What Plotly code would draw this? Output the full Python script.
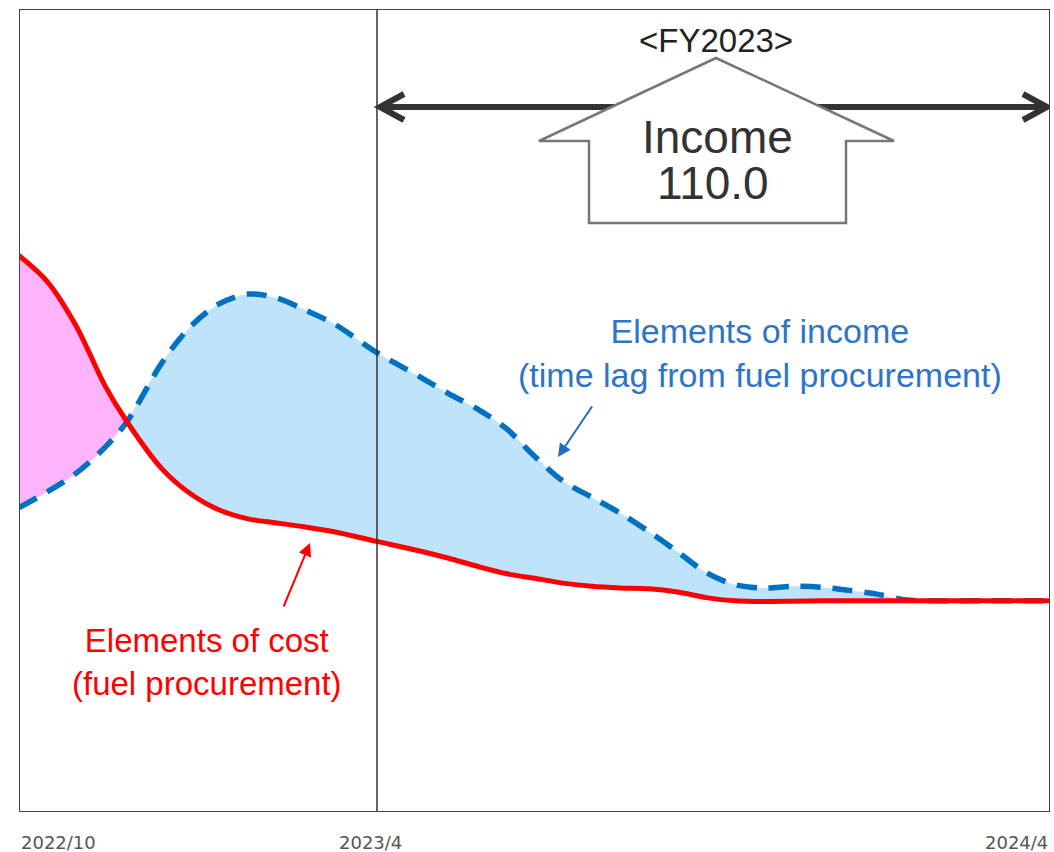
import plotly.graph_objects as go

# ---- data (months since 2022/10; values are a relative price level) ----
months = [0, 0.5, 1, 1.5, 1.885, 2.5, 3, 3.5, 4, 4.5, 5, 5.5, 6.25, 7, 7.5, 8,
          8.5, 9, 9.5, 10, 10.5, 11, 11.5, 12, 12.5, 13, 13.5, 14, 14.5, 15,
          15.5, 16, 17, 18]
cost = [69.3, 66.0, 60.5, 53.1, 48.6, 42.7, 39.6, 37.6, 36.5, 36.0, 35.5, 34.9,
        33.7, 32.5, 31.6, 30.6, 29.7, 29.1, 28.5, 28.1, 27.9, 27.8, 27.4, 26.7,
        26.3, 26.2, 26.25, 26.3, 26.3, 26.3, 26.3, 26.3, 26.3, 26.3]
income = [37.9, 39.9, 42.2, 45.4, 48.6, 56.0, 60.5, 63.3, 64.5, 64.0, 62.5, 60.8,
          57.2, 54.2, 52.1, 50.2, 47.8, 44.3, 41.2, 39.2, 37.2, 34.9, 32.4, 29.8,
          28.3, 27.9, 28.1, 28.0, 27.6, 27.1, 26.4, 26.3, 26.3, 26.3]
cross_index = 4            # where income overtakes cost
fy_start = 6.25            # 2023/4 boundary
tick_pos = [0, 6.25, 18]
tick_text = ["2022/10", "2023/4", "2024/4"]
fy_label = "<FY2023>"
income_value = "110.0"

RED = "#ff0000"
BLUE = "#0070c0"
FILL_BLUE = "#bfe3fb"
FILL_PINK = "#ffb3fb"

X0, X1 = 0, 18
Y0, Y1 = 0, 100


def px2x(px):
    return X0 + (px - 19) / (1050 - 19) * (X1 - X0)


def py2y(py):
    return Y0 + (812 - py) / (812 - 9) * (Y1 - Y0)


fig = go.Figure()
SM = 0.9

# pink area (cost above income)
seg = slice(0, cross_index + 1)
fig.add_trace(go.Scatter(x=months[seg], y=income[seg], mode="lines",
                         line=dict(width=0, shape="spline", smoothing=SM), hoverinfo="skip",
                         showlegend=False))
fig.add_trace(go.Scatter(x=months[seg], y=cost[seg], mode="lines",
                         line=dict(width=0, shape="spline", smoothing=SM), fill="tonexty",
                         fillcolor=FILL_PINK, hoverinfo="skip", showlegend=False))
# blue area (income above cost)
seg = slice(cross_index, len(months))
fig.add_trace(go.Scatter(x=months[seg], y=cost[seg], mode="lines",
                         line=dict(width=0, shape="spline", smoothing=SM), hoverinfo="skip",
                         showlegend=False))
fig.add_trace(go.Scatter(x=months[seg], y=income[seg], mode="lines",
                         line=dict(width=0, shape="spline", smoothing=SM), fill="tonexty",
                         fillcolor=FILL_BLUE, hoverinfo="skip", showlegend=False))

# income line (dashed)
fig.add_trace(go.Scatter(x=months, y=income, mode="lines", name="Elements of income",
                         line=dict(color=BLUE, width=5.5, dash="20px,12px", shape="spline",
                                   smoothing=SM),
                         showlegend=False))
# cost line
fig.add_trace(go.Scatter(x=months, y=cost, mode="lines", name="Elements of cost",
                         line=dict(color=RED, width=5, shape="spline", smoothing=SM),
                         showlegend=False))

shapes = []
# FY boundary line
shapes.append(dict(type="line", xref="x", yref="y", x0=fy_start, x1=fy_start,
                   y0=Y0, y1=Y1, line=dict(color="#333333", width=1.5)))
# plot border
shapes.append(dict(type="rect", xref="x", yref="y", x0=X0, x1=X1, y0=Y0, y1=Y1,
                   line=dict(color="#444444", width=2)))
# double-headed FY arrow
ay = py2y(107)
xl, xr = px2x(380), px2x(1047)
shapes.append(dict(type="line", xref="x", yref="y", x0=xl + 0.05, x1=xr - 0.05,
                   y0=ay, y1=ay, line=dict(color="#333333", width=6)))
dx = px2x(24) - px2x(0)
dy = py2y(0) - py2y(13)
for tip, sgn in ((xl, 1), (xr, -1)):
    shapes.append(dict(type="path", xref="x", yref="y",
                       path=f"M {tip + sgn*dx} {ay + dy} L {tip} {ay} L {tip + sgn*dx} {ay - dy}",
                       line=dict(color="#333333", width=6)))
# house-shaped up arrow
pts = [(716, 58), (894, 141), (846, 141), (846, 223), (589, 223), (589, 141), (539, 141)]
path = "M " + " L ".join(f"{px2x(a)} {py2y(b)}" for a, b in pts) + " Z"
shapes.append(dict(type="path", xref="x", yref="y", path=path,
                   fillcolor="white", line=dict(color="#777777", width=2.5)))

annotations = []
# tick labels
for pos, txt, anc in zip(tick_pos, tick_text, ["left", "center", "right"]):
    annotations.append(dict(x=pos if anc != "center" else pos - 0.12, y=0, xref="x", yref="paper",
                            text=txt, showarrow=False, xanchor=anc, yanchor="top",
                            yshift=-18, font=dict(family="DejaVu Sans", size=18, color="#555555")))
annotations.append(dict(x=px2x(716), y=py2y(40), xref="x", yref="y", text=fy_label,
                        showarrow=False, font=dict(family="Liberation Sans", size=33, color="#222222")))
annotations.append(dict(x=px2x(717), y=py2y(137), xref="x", yref="y", text="Income",
                        showarrow=False, font=dict(family="Liberation Sans", size=46, color="#333333")))
annotations.append(dict(x=px2x(713), y=py2y(183), xref="x", yref="y", text=income_value,
                        showarrow=False, font=dict(family="Liberation Sans", size=46, color="#333333")))
annotations.append(dict(x=px2x(760), y=py2y(353), xref="x", yref="y",
                        text="Elements of income<br>(time lag from fuel procurement)",
                        showarrow=False, font=dict(family="Liberation Sans", size=34, color="#2e75c6")))
annotations.append(dict(x=px2x(207), y=py2y(662), xref="x", yref="y",
                        text="Elements of cost<br>(fuel procurement)",
                        showarrow=False, font=dict(family="Liberation Sans", size=33, color=RED)))
# pointer arrows
annotations.append(dict(x=px2x(558), y=py2y(457), xref="x", yref="y", ax=35, ay=-52,
                        text="", showarrow=True, arrowhead=2, arrowsize=1.3, arrowwidth=2,
                        arrowcolor="#1f6fc0"))
annotations.append(dict(x=px2x(310), y=py2y(543), xref="x", yref="y", ax=-27, ay=65,
                        text="", showarrow=True, arrowhead=2, arrowsize=1.3, arrowwidth=2,
                        arrowcolor=RED))

fig.update_layout(
    width=1054, height=852,
    margin=dict(l=19, r=4, t=9, b=40),
    paper_bgcolor="white", plot_bgcolor="white",
    xaxis=dict(range=[X0, X1], showgrid=False, zeroline=False, showticklabels=False,
               ticks="", showline=False, fixedrange=True),
    yaxis=dict(range=[Y0, Y1], showgrid=False, zeroline=False, showticklabels=False,
               ticks="", showline=False, fixedrange=True),
    shapes=shapes, annotations=annotations, showlegend=False,
)

fig.write_html("out.html", config={"displayModeBar": False},
               post_script="document.body.style.margin='0';")
